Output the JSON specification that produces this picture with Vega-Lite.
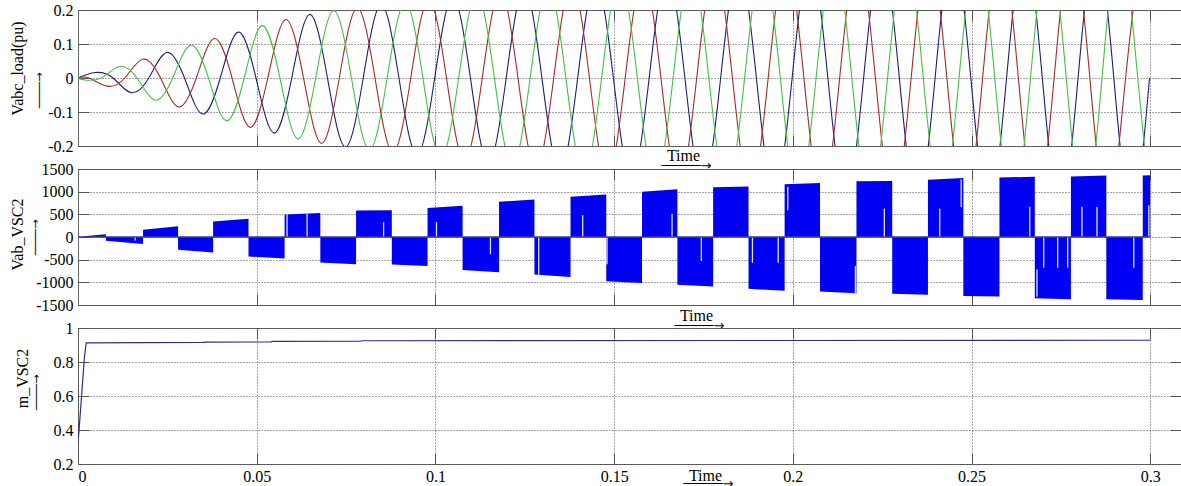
{
"$schema": "https://vega.github.io/schema/vega-lite/v6.json",
"padding": {"left": 8, "top": 1, "right": 0, "bottom": 0},
"bounds": "flush",
"spacing": 23,
"config": {
  "view": {"stroke": "#6a6a6a", "strokeWidth": 1},
  "font": "Liberation Serif",
  "axis": {
    "labelFont": "Liberation Serif", "labelFontSize": 16, "labelColor": "#000",
    "titleFont": "Liberation Serif", "titleFontSize": 16, "titleFontWeight": "normal", "titleColor": "#000",
    "domain": false, "tickColor": "#555", "tickSize": -11, "labelPadding": 16,
    "gridColor": "#3a3a3a", "gridDash": [1, 2], "gridWidth": 1, "gridOpacity": 0.9
  }
},
"datasets": {
"abc": [
{"t":0,"p":"a","v":0},{"t":0.0048,"p":"a","v":0.016},{"t":0.0098,"p":"a","v":0},{"t":0.0148,"p":"a","v":-0.043},{"t":0.0198,"p":"a","v":0},{"t":0.0248,"p":"a","v":0.075},{"t":0.0298,"p":"a","v":0},{"t":0.0348,"p":"a","v":-0.106},{"t":0.0398,"p":"a","v":0},{"t":0.0448,"p":"a","v":0.135},{"t":0.0498,"p":"a","v":0},{"t":0.0548,"p":"a","v":-0.162},{"t":0.0598,"p":"a","v":0},{"t":0.0648,"p":"a","v":0.187},{"t":0.0698,"p":"a","v":0},{"t":0.0748,"p":"a","v":-0.203},{"t":0.0798,"p":"a","v":0},{"t":0.0848,"p":"a","v":0.216},{"t":0.0898,"p":"a","v":0},{"t":0.0948,"p":"a","v":-0.226},{"t":0.0998,"p":"a","v":0},{"t":0.1048,"p":"a","v":0.238},{"t":0.1098,"p":"a","v":0},{"t":0.1148,"p":"a","v":-0.25},{"t":0.1198,"p":"a","v":0},{"t":0.1248,"p":"a","v":0.262},{"t":0.1298,"p":"a","v":0},{"t":0.1348,"p":"a","v":-0.274},{"t":0.1398,"p":"a","v":0},{"t":0.1448,"p":"a","v":0.285},{"t":0.1498,"p":"a","v":0},{"t":0.1548,"p":"a","v":-0.296},{"t":0.1598,"p":"a","v":0},{"t":0.1648,"p":"a","v":0.307},{"t":0.1698,"p":"a","v":0},{"t":0.1748,"p":"a","v":-0.318},{"t":0.1798,"p":"a","v":0},{"t":0.1848,"p":"a","v":0.329},{"t":0.1898,"p":"a","v":0},{"t":0.1948,"p":"a","v":-0.339},{"t":0.1998,"p":"a","v":0},{"t":0.2048,"p":"a","v":0.348},{"t":0.2098,"p":"a","v":0},{"t":0.2148,"p":"a","v":-0.355},{"t":0.2198,"p":"a","v":0},{"t":0.2248,"p":"a","v":0.362},{"t":0.2298,"p":"a","v":0},{"t":0.2348,"p":"a","v":-0.369},{"t":0.2398,"p":"a","v":0},{"t":0.2448,"p":"a","v":0.375},{"t":0.2498,"p":"a","v":0},{"t":0.2548,"p":"a","v":-0.38},{"t":0.2598,"p":"a","v":0},{"t":0.2648,"p":"a","v":0.385},{"t":0.2698,"p":"a","v":0},{"t":0.2748,"p":"a","v":-0.39},{"t":0.2798,"p":"a","v":0},{"t":0.2848,"p":"a","v":0.394},{"t":0.2898,"p":"a","v":0},{"t":0.2948,"p":"a","v":-0.398},{"t":0.2998,"p":"a","v":0},
{"t":0,"p":"b","v":0},{"t":0.0031,"p":"b","v":0},{"t":0.0081,"p":"b","v":-0.024},{"t":0.0131,"p":"b","v":0},{"t":0.0181,"p":"b","v":0.055},{"t":0.0231,"p":"b","v":0},{"t":0.0281,"p":"b","v":-0.085},{"t":0.0331,"p":"b","v":0},{"t":0.0381,"p":"b","v":0.116},{"t":0.0431,"p":"b","v":0},{"t":0.0481,"p":"b","v":-0.145},{"t":0.0531,"p":"b","v":0},{"t":0.0581,"p":"b","v":0.172},{"t":0.0631,"p":"b","v":0},{"t":0.0681,"p":"b","v":-0.192},{"t":0.0731,"p":"b","v":0},{"t":0.0781,"p":"b","v":0.206},{"t":0.0831,"p":"b","v":0},{"t":0.0881,"p":"b","v":-0.219},{"t":0.0931,"p":"b","v":0},{"t":0.0981,"p":"b","v":0.23},{"t":0.1031,"p":"b","v":0},{"t":0.1081,"p":"b","v":-0.242},{"t":0.1131,"p":"b","v":0},{"t":0.1181,"p":"b","v":0.254},{"t":0.1231,"p":"b","v":0},{"t":0.1281,"p":"b","v":-0.266},{"t":0.1331,"p":"b","v":0},{"t":0.1381,"p":"b","v":0.278},{"t":0.1431,"p":"b","v":0},{"t":0.1481,"p":"b","v":-0.289},{"t":0.1531,"p":"b","v":0},{"t":0.1581,"p":"b","v":0.3},{"t":0.1631,"p":"b","v":0},{"t":0.1681,"p":"b","v":-0.311},{"t":0.1731,"p":"b","v":0},{"t":0.1781,"p":"b","v":0.322},{"t":0.1831,"p":"b","v":0},{"t":0.1881,"p":"b","v":-0.332},{"t":0.1931,"p":"b","v":0},{"t":0.1981,"p":"b","v":0.342},{"t":0.2031,"p":"b","v":0},{"t":0.2081,"p":"b","v":-0.351},{"t":0.2131,"p":"b","v":0},{"t":0.2181,"p":"b","v":0.358},{"t":0.2231,"p":"b","v":0},{"t":0.2281,"p":"b","v":-0.365},{"t":0.2331,"p":"b","v":0},{"t":0.2381,"p":"b","v":0.371},{"t":0.2431,"p":"b","v":0},{"t":0.2481,"p":"b","v":-0.377},{"t":0.2531,"p":"b","v":0},{"t":0.2581,"p":"b","v":0.382},{"t":0.2631,"p":"b","v":0},{"t":0.2681,"p":"b","v":-0.387},{"t":0.2731,"p":"b","v":0},{"t":0.2781,"p":"b","v":0.391},{"t":0.2831,"p":"b","v":0},{"t":0.2881,"p":"b","v":-0.395},{"t":0.2931,"p":"b","v":0},{"t":0.2981,"p":"b","v":0.399},{"t":0.3,"p":"b","v":0.33},
{"t":0,"p":"c","v":0},{"t":0.0015,"p":"c","v":-0.005},{"t":0.0065,"p":"c","v":0},{"t":0.0115,"p":"c","v":0.034},{"t":0.0165,"p":"c","v":0},{"t":0.0215,"p":"c","v":-0.065},{"t":0.0265,"p":"c","v":0},{"t":0.0315,"p":"c","v":0.096},{"t":0.0365,"p":"c","v":0},{"t":0.0415,"p":"c","v":-0.126},{"t":0.0465,"p":"c","v":0},{"t":0.0515,"p":"c","v":0.154},{"t":0.0565,"p":"c","v":0},{"t":0.0615,"p":"c","v":-0.179},{"t":0.0665,"p":"c","v":0},{"t":0.0715,"p":"c","v":0.198},{"t":0.0765,"p":"c","v":0},{"t":0.0815,"p":"c","v":-0.211},{"t":0.0865,"p":"c","v":0},{"t":0.0915,"p":"c","v":0.222},{"t":0.0965,"p":"c","v":0},{"t":0.1015,"p":"c","v":-0.234},{"t":0.1065,"p":"c","v":0},{"t":0.1115,"p":"c","v":0.246},{"t":0.1165,"p":"c","v":0},{"t":0.1215,"p":"c","v":-0.258},{"t":0.1265,"p":"c","v":0},{"t":0.1315,"p":"c","v":0.27},{"t":0.1365,"p":"c","v":0},{"t":0.1415,"p":"c","v":-0.282},{"t":0.1465,"p":"c","v":0},{"t":0.1515,"p":"c","v":0.293},{"t":0.1565,"p":"c","v":0},{"t":0.1615,"p":"c","v":-0.304},{"t":0.1665,"p":"c","v":0},{"t":0.1715,"p":"c","v":0.315},{"t":0.1765,"p":"c","v":0},{"t":0.1815,"p":"c","v":-0.326},{"t":0.1865,"p":"c","v":0},{"t":0.1915,"p":"c","v":0.336},{"t":0.1965,"p":"c","v":0},{"t":0.2015,"p":"c","v":-0.345},{"t":0.2065,"p":"c","v":0},{"t":0.2115,"p":"c","v":0.353},{"t":0.2165,"p":"c","v":0},{"t":0.2215,"p":"c","v":-0.36},{"t":0.2265,"p":"c","v":0},{"t":0.2315,"p":"c","v":0.367},{"t":0.2365,"p":"c","v":0},{"t":0.2415,"p":"c","v":-0.373},{"t":0.2465,"p":"c","v":0},{"t":0.2515,"p":"c","v":0.379},{"t":0.2565,"p":"c","v":0},{"t":0.2615,"p":"c","v":-0.384},{"t":0.2665,"p":"c","v":0},{"t":0.2715,"p":"c","v":0.389},{"t":0.2765,"p":"c","v":0},{"t":0.2815,"p":"c","v":-0.393},{"t":0.2865,"p":"c","v":0},{"t":0.2915,"p":"c","v":0.397},{"t":0.2965,"p":"c","v":0},{"t":0.3,"p":"c","v":-0.356}
],
"vab": [
{"b":1,"t":0.0016,"v":15},{"b":1,"t":0.0078,"v":60},
{"b":2,"t":0.0078,"v":-80},{"b":2,"t":0.0182,"v":-155},
{"b":3,"t":0.0182,"v":160},{"b":3,"t":0.028,"v":235},
{"b":4,"t":0.028,"v":-280},{"b":4,"t":0.0378,"v":-340},
{"b":5,"t":0.0378,"v":340},{"b":5,"t":0.0477,"v":400},
{"b":6,"t":0.0477,"v":-430},{"b":6,"t":0.0578,"v":-473},
{"b":7,"t":0.0578,"v":495},{"b":7,"t":0.0678,"v":530},
{"b":8,"t":0.0678,"v":-560},{"b":8,"t":0.0778,"v":-600},
{"b":9,"t":0.0778,"v":583},{"b":9,"t":0.0878,"v":592},
{"b":10,"t":0.0878,"v":-605},{"b":10,"t":0.0978,"v":-640},
{"b":11,"t":0.0978,"v":640},{"b":11,"t":0.1076,"v":687},
{"b":12,"t":0.1076,"v":-730},{"b":12,"t":0.1178,"v":-776},
{"b":13,"t":0.1178,"v":776},{"b":13,"t":0.1277,"v":828},
{"b":14,"t":0.1277,"v":-828},{"b":14,"t":0.1378,"v":-880},
{"b":15,"t":0.1378,"v":888},{"b":15,"t":0.1478,"v":940},
{"b":16,"t":0.1478,"v":-978},{"b":16,"t":0.1578,"v":-1015},
{"b":17,"t":0.1578,"v":1000},{"b":17,"t":0.1677,"v":1052},
{"b":18,"t":0.1677,"v":-1052},{"b":18,"t":0.1777,"v":-1090},
{"b":19,"t":0.1777,"v":1097},{"b":19,"t":0.1876,"v":1112},
{"b":20,"t":0.1876,"v":-1142},{"b":20,"t":0.1977,"v":-1187},
{"b":21,"t":0.1977,"v":1164},{"b":21,"t":0.2076,"v":1190},
{"b":22,"t":0.2076,"v":-1201},{"b":22,"t":0.2178,"v":-1239},
{"b":23,"t":0.2178,"v":1228},{"b":23,"t":0.2278,"v":1236},
{"b":24,"t":0.2278,"v":-1254},{"b":24,"t":0.2378,"v":-1276},
{"b":25,"t":0.2378,"v":1261},{"b":25,"t":0.2477,"v":1299},
{"b":26,"t":0.2477,"v":-1299},{"b":26,"t":0.2578,"v":-1313},
{"b":27,"t":0.2578,"v":1313},{"b":27,"t":0.2677,"v":1328},
{"b":28,"t":0.2677,"v":-1350},{"b":28,"t":0.2778,"v":-1373},
{"b":29,"t":0.2778,"v":1336},{"b":29,"t":0.2877,"v":1358},
{"b":30,"t":0.2877,"v":-1373},{"b":30,"t":0.2979,"v":-1388},
{"b":31,"t":0.2979,"v":1358},{"b":31,"t":0.3,"v":1360}
],
"notch": [
{"t":0.016,"v1":0,"v2":-75},{"t":0.0585,"v1":0,"v2":500},{"t":0.0641,"v1":0,"v2":520},{"t":0.0855,"v1":0,"v2":325},{"t":0.1003,"v1":0,"v2":328},{"t":0.1154,"v1":0,"v2":-380},{"t":0.1289,"v1":0,"v2":-830},{"t":0.1412,"v1":0,"v2":478},{"t":0.148,"v1":0,"v2":-600},{"t":0.1662,"v1":0,"v2":515},{"t":0.1744,"v1":0,"v2":-530},{"t":0.1887,"v1":0,"v2":-570},{"t":0.1959,"v1":0,"v2":-570},{"t":0.1986,"v1":590,"v2":1110},{"t":0.2175,"v1":-640,"v2":-1240},{"t":0.2256,"v1":0,"v2":630},{"t":0.2411,"v1":0,"v2":630},{"t":0.2471,"v1":660,"v2":1270},{"t":0.2663,"v1":0,"v2":665},{"t":0.2683,"v1":-716,"v2":-1320},{"t":0.2702,"v1":0,"v2":-680},{"t":0.2741,"v1":0,"v2":-680},{"t":0.2769,"v1":0,"v2":-680},{"t":0.2809,"v1":0,"v2":665},{"t":0.2851,"v1":0,"v2":665},{"t":0.2954,"v1":0,"v2":-680},{"t":0.2996,"v1":0,"v2":700}
],
"zl": [{"t":0,"v":0},{"t":0.3,"v":0}],
"m": [
{"t":0,"v":0.33},{"t":0.0003,"v":0.4},{"t":0.0018,"v":0.83},{"t":0.0023,"v":0.913},{"t":0.035,"v":0.915},{"t":0.0356,"v":0.917},{"t":0.054,"v":0.918},{"t":0.0545,"v":0.921},{"t":0.079,"v":0.922},{"t":0.0795,"v":0.925},{"t":0.3,"v":0.928}
]
},
"vconcat": [
{
  "width": 1103, "height": 136,
  "data": {"name": "abc"},
  "layer": [
    {"transform": [{"filter": "datum.p === 'a'"}],
     "mark": {"type": "line", "interpolate": "natural", "clip": true, "color": "#1e1e70", "strokeWidth": 1.1},
     "encoding": {
       "x": {"field": "t", "type": "quantitative", "scale": {"domain": [0, 0.3086], "nice": false, "zero": false},
             "axis": {"orient": "bottom", "values": [0.05, 0.1, 0.15, 0.2, 0.25, 0.3], "labels": false, "grid": true,
                      "title": "Time", "titleX": 605, "titleY": 14, "titleAlign": "center", "titleBaseline": "alphabetic", "titleAngle": 0}},
       "y": {"field": "v", "type": "quantitative", "scale": {"domain": [-0.2, 0.2], "nice": false, "zero": false},
             "axis": {"orient": "left", "values": [-0.2, -0.1, 0, 0.1, 0.2], "grid": true,
                      "labelExpr": "datum.value < 0 ? '-' + format(-datum.value, '~g') : format(datum.value, '~g')",
                      "title": "Vabc_load(pu)",
                      "titleX": -56, "titleY": 58, "titleAngle": 270, "titleAlign": "center", "titleBaseline": "alphabetic"}}
     }},
    {"transform": [{"filter": "datum.p === 'b'"}],
     "mark": {"type": "line", "interpolate": "natural", "clip": true, "color": "#a52a2a", "strokeWidth": 1.1},
     "encoding": {
       "x": {"field": "t", "type": "quantitative", "scale": {"domain": [0, 0.3086], "nice": false, "zero": false},
             "axis": {"orient": "top", "values": [0.05, 0.1, 0.15, 0.2, 0.25, 0.3], "labels": false, "grid": false,
                      "title": "─────→", "titleFont": "DejaVu Sans", "titleFontSize": 13, "titleX": 608, "titleY": 155, "titleAlign": "center", "titleBaseline": "middle", "titleAngle": 0}},
       "y": {"field": "v", "type": "quantitative", "scale": {"domain": [-0.2, 0.2], "nice": false, "zero": false},
             "axis": {"orient": "right", "values": [-0.2, -0.1, 0, 0.1, 0.2], "labels": false, "grid": false,
                      "title": "────→", "titleFont": "DejaVu Sans", "titleFontSize": 11, "titleX": -1142, "titleY": 80, "titleAlign": "center", "titleBaseline": "middle", "titleAngle": 270}}
     }},
    {"transform": [{"filter": "datum.p === 'c'"}],
     "mark": {"type": "line", "interpolate": "natural", "clip": true, "color": "#44c044", "strokeWidth": 1.1},
     "encoding": {
       "x": {"field": "t", "type": "quantitative", "axis": null},
       "y": {"field": "v", "type": "quantitative", "axis": null}
     }}
  ],
  "resolve": {"axis": {"x": "independent", "y": "independent"}}
},
{
  "width": 1103, "height": 136,
  "layer": [
    {"data": {"name": "vab"},
     "mark": {"type": "area", "color": "#0000f2", "clip": true},
     "encoding": {
       "x": {"field": "t", "type": "quantitative", "scale": {"domain": [0, 0.3086], "nice": false, "zero": false},
             "axis": {"orient": "bottom", "values": [0.05, 0.1, 0.15, 0.2, 0.25, 0.3], "labels": false, "grid": true,
                      "title": "Time", "titleX": 618, "titleY": 15, "titleAlign": "center", "titleBaseline": "alphabetic", "titleAngle": 0}},
       "y": {"field": "v", "type": "quantitative", "scale": {"domain": [-1500, 1500], "nice": false, "zero": false},
             "axis": {"orient": "left", "values": [-1500, -1000, -500, 0, 500, 1000, 1500], "grid": true,
                      "labelExpr": "datum.value < 0 ? '-' + format(-datum.value, '~g') : format(datum.value, '~g')",
                      "title": "Vab_VSC2",
                      "titleX": -56, "titleY": 65, "titleAngle": 270, "titleAlign": "center", "titleBaseline": "alphabetic"}},
       "y2": {"datum": 0},
       "detail": {"field": "b", "type": "nominal"}
     }},
    {"data": {"name": "notch"},
     "mark": {"type": "rule", "color": "#e2e2f4", "strokeWidth": 1.3},
     "encoding": {
       "x": {"field": "t", "type": "quantitative", "axis": null},
       "y": {"field": "v1", "type": "quantitative", "axis": null},
       "y2": {"field": "v2"}
     }},
    {"data": {"name": "zl"},
     "mark": {"type": "line", "color": "#3a3a9a", "strokeWidth": 1.3},
     "encoding": {
       "x": {"field": "t", "type": "quantitative", "scale": {"domain": [0, 0.3086], "nice": false, "zero": false},
             "axis": {"orient": "top", "values": [0.05, 0.1, 0.15, 0.2, 0.25, 0.3], "labels": false, "grid": false,
                      "title": "─────→", "titleFont": "DejaVu Sans", "titleFontSize": 13, "titleX": 621, "titleY": 156, "titleAlign": "center", "titleBaseline": "middle", "titleAngle": 0}},
       "y": {"field": "v", "type": "quantitative", "scale": {"domain": [-1500, 1500], "nice": false, "zero": false},
             "axis": {"orient": "right", "values": [-1500, -1000, -500, 0, 500, 1000, 1500], "labels": false, "grid": false,
                      "title": "────→", "titleFont": "DejaVu Sans", "titleFontSize": 11, "titleX": -1146, "titleY": 68, "titleAlign": "center", "titleBaseline": "middle", "titleAngle": 270}}
     }}
  ],
  "resolve": {"axis": {"x": "independent", "y": "independent"}}
},
{
  "width": 1103, "height": 136,
  "data": {"name": "m"},
  "layer": [
    {"mark": {"type": "line", "color": "#2e2e80", "strokeWidth": 1.2, "clip": true},
     "encoding": {
       "x": {"field": "t", "type": "quantitative", "scale": {"domain": [0, 0.3086], "nice": false, "zero": false},
             "axis": {"orient": "bottom", "values": [0, 0.05, 0.1, 0.15, 0.2, 0.25, 0.3], "format": "~g", "labels": true, "grid": true, "labelPadding": 15,
                      "title": "Time", "titleX": 627, "titleY": 16, "titleAlign": "center", "titleBaseline": "alphabetic", "titleAngle": 0}},
       "y": {"field": "v", "type": "quantitative", "scale": {"domain": [0.2, 1], "nice": false, "zero": false},
             "axis": {"orient": "left", "values": [0.2, 0.4, 0.6, 0.8, 1], "grid": true, "format": "~g",
                      "title": "m_VSC2",
                      "titleX": -51, "titleY": 50, "titleAngle": 270, "titleAlign": "center", "titleBaseline": "alphabetic"}}
     }},
    {"mark": {"type": "line", "opacity": 0},
     "encoding": {
       "x": {"field": "t", "type": "quantitative", "scale": {"domain": [0, 0.3086], "nice": false, "zero": false},
             "axis": {"orient": "top", "values": [0.05, 0.1, 0.15, 0.2, 0.25, 0.3], "labels": false, "grid": false,
                      "title": "─────→", "titleFont": "DejaVu Sans", "titleFontSize": 13, "titleX": 630, "titleY": 155, "titleAlign": "center", "titleBaseline": "middle", "titleAngle": 0}},
       "y": {"field": "v", "type": "quantitative", "scale": {"domain": [0.2, 1], "nice": false, "zero": false},
             "axis": {"orient": "right", "values": [0.2, 0.4, 0.6, 0.8, 1], "labels": false, "grid": false,
                      "title": "────→", "titleFont": "DejaVu Sans", "titleFontSize": 11, "titleX": -1145, "titleY": 64, "titleAlign": "center", "titleBaseline": "middle", "titleAngle": 270}}
     }}
  ],
  "resolve": {"axis": {"x": "independent", "y": "independent"}}
}
]
}
